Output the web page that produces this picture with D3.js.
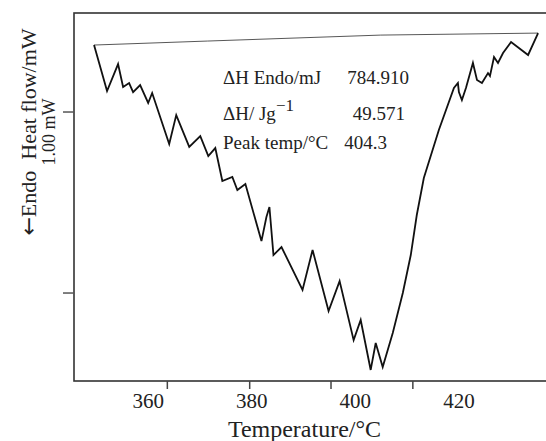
<!DOCTYPE html>
<html>
<head>
<meta charset="utf-8">
<script src="https://cdn.jsdelivr.net/npm/d3@7"></script>
<style>
  body { margin: 0; background: #fff; }
  svg { display: block; font-family: "Liberation Serif", "DejaVu Serif", serif; }
</style>
</head>
<body>
<svg id="chart" width="546" height="441"></svg>
<script>
// DSC curve (temperature in °C, heat flow in mW)
const temps = [349.65, 352.16, 354.29, 355.26, 356.42, 357.19, 358.55, 360.10, 360.87, 364.16,
  365.52, 368.03, 370.16, 371.71, 373.06, 374.42, 376.35, 377.32, 378.87, 381.97,
  382.93, 383.51, 384.29, 385.84, 389.90, 391.84, 394.93, 397.06, 399.77, 401.13,
  403.06, 404.03, 405.38, 407.32, 409.26, 410.80, 411.96, 413.32, 416.22, 419.13,
  419.90, 420.09, 420.67, 421.45, 422.80, 423.58, 424.54, 425.71, 426.09, 426.87,
  427.64, 428.61, 430.16, 433.45, 435.38];
const heatFlow = [2.370, 2.116, 2.265, 2.138, 2.160, 2.110, 2.149, 2.050, 2.105, 1.823,
  1.983, 1.807, 1.867, 1.757, 1.801, 1.619, 1.641, 1.569, 1.602, 1.287,
  1.420, 1.475, 1.210, 1.254, 1.017, 1.238, 0.901, 1.066, 0.740, 0.851,
  0.575, 0.724, 0.591, 0.779, 1.000, 1.210, 1.431, 1.635, 1.901, 2.133,
  2.160, 2.110, 2.066, 2.133, 2.271, 2.177, 2.160, 2.215, 2.199, 2.304,
  2.271, 2.326, 2.387, 2.315, 2.436];

// integration baseline under the peak
const baseTemps = [349.65, 371.52, 405.0, 435.38];
const baseFlow = [2.370, 2.392, 2.425, 2.436];

const xTickLabels = [360, 380, 400, 420];
// the tick marks in the figure sit apart from their labels
const xTickMarks = [363.8, 379.7, 395.4, 411.2];
const yTickMarks = [1, 2];

const annotations = [
  { label: "ΔH Endo/mJ", value: "784.910" },
  { label: "ΔH/ Jg", sup: "−1", value: "49.571" },
  { label: "Peak temp/°C", value: "404.3" }
];

const svg = d3.select("#chart");
const plotLeft = 74, plotTop = 13, plotRight = 547, plotBottom = 381;

const x = d3.scaleLinear().domain([345.78, 437.1]).range([plotLeft, plotRight]);
const y = d3.scaleLinear().domain([0.514, 2.547]).range([plotBottom, plotTop]);

// frame
svg.append("rect")
  .attr("x", plotLeft).attr("y", plotTop)
  .attr("width", plotRight - plotLeft).attr("height", plotBottom - plotTop)
  .attr("fill", "none").attr("stroke", "#333").attr("stroke-width", 1.6);

// x tick labels via axis (no tick lines)
const xAxis = svg.append("g")
  .attr("transform", `translate(0,${plotBottom})`)
  .call(d3.axisBottom(x).tickValues(xTickLabels).tickSize(0).tickPadding(12).tickFormat(d3.format("d")));
xAxis.select(".domain").remove();
xAxis.selectAll("text")
  .attr("font-family", "Liberation Serif, DejaVu Serif, serif")
  .attr("font-size", 21).attr("fill", "#222")
  .attr("dy", "0.71em");

// tick marks
svg.append("g").selectAll("line").data(xTickMarks).join("line")
  .attr("x1", d => x(d)).attr("x2", d => x(d))
  .attr("y1", plotBottom).attr("y2", plotBottom + 8)
  .attr("stroke", "#444").attr("stroke-width", 1.5);
svg.append("g").selectAll("line").data(yTickMarks).join("line")
  .attr("x1", plotLeft - 11).attr("x2", plotLeft)
  .attr("y1", d => y(d)).attr("y2", d => y(d))
  .attr("stroke", "#555").attr("stroke-width", 1.5);

// baseline
const line = d3.line().x(d => x(d[0])).y(d => y(d[1]));
svg.append("path")
  .datum(d3.zip(baseTemps, baseFlow))
  .attr("d", line)
  .attr("fill", "none").attr("stroke", "#444").attr("stroke-width", 0.9);

// curve
svg.append("path")
  .datum(d3.zip(temps, heatFlow))
  .attr("d", line)
  .attr("fill", "none").attr("stroke", "#111").attr("stroke-width", 1.8)
  .attr("stroke-linejoin", "miter");

// annotation block
const ann = svg.append("g").attr("font-size", 19).attr("fill", "#222");
const rowY = [84, 120, 149];
const valueEnd = [409, 405, 387];
annotations.forEach((a, i) => {
  const t = ann.append("text").attr("x", 223).attr("y", rowY[i]).text(a.label);
  if (a.sup) t.append("tspan").attr("dy", -9).attr("font-size", 17).text(a.sup);
  ann.append("text").attr("x", valueEnd[i]).attr("y", rowY[i])
    .attr("text-anchor", "end").text(a.value);
});

// axis titles
svg.append("text")
  .attr("x", (plotLeft + plotRight) / 2 - 6).attr("y", 437)
  .attr("text-anchor", "middle").attr("font-size", 24).attr("fill", "#222")
  .text("Temperature/°C");

const yTitle = svg.append("text")
  .attr("transform", "translate(36,132) rotate(-90)")
  .attr("text-anchor", "middle").attr("font-size", 22).attr("fill", "#222");
yTitle.append("tspan").attr("font-family", "DejaVu Sans").attr("font-size", 22).text("\u2190");
yTitle.append("tspan").text("Endo\u00a0\u00a0Heat flow/mW");

svg.append("text")
  .attr("transform", "translate(55,132) rotate(-90)")
  .attr("text-anchor", "middle").attr("font-size", 18).attr("fill", "#222")
  .text("1.00 mW");
</script>
</body>
</html>
